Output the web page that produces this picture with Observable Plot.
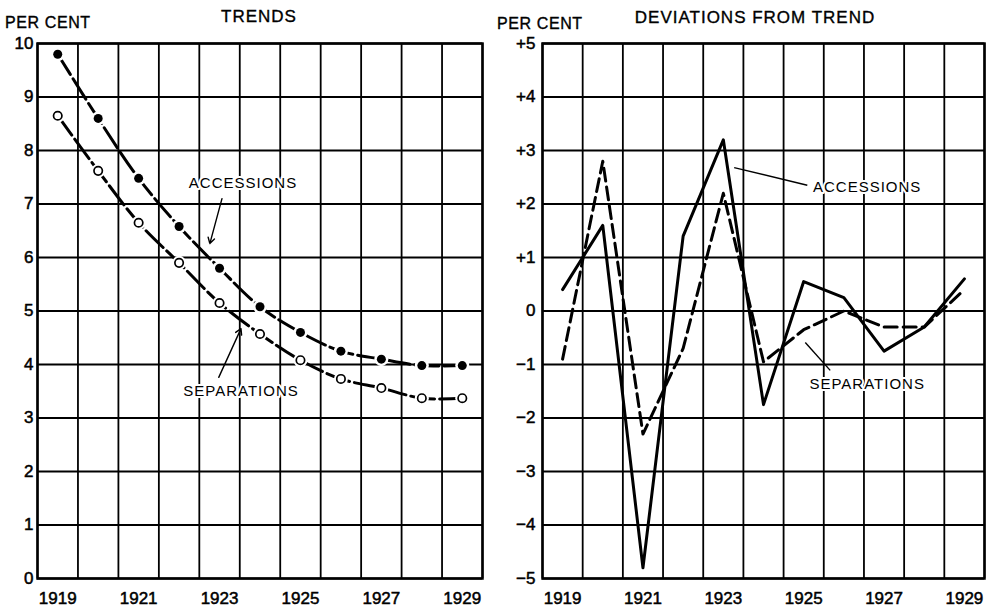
<!DOCTYPE html>
<html>
<head>
<meta charset="utf-8">
<script src="https://cdn.jsdelivr.net/npm/d3@7"></script>
<script src="https://cdn.jsdelivr.net/npm/@observablehq/plot@0.6"></script>
<style>
  html, body { margin: 0; padding: 0; background: #fff; }
  #wrap { position: relative; width: 1001px; height: 613px; overflow: hidden; font-family: "Liberation Sans", Arial, sans-serif; color: #000; }
  .panel { position: absolute; top: 0; }
  .head { position: relative; height: 30px; }
  .head span { position: absolute; white-space: nowrap; line-height: 1; -webkit-text-stroke: 0.35px #000; }
  .unit { font-size: 16px; letter-spacing: 0.6px; }
  .title { font-size: 17px; letter-spacing: 1px; transform: translateX(-50%); }
  svg g[aria-label="text"] text { letter-spacing: 1px; }
  svg g[aria-label$="tick label"] text { stroke: #000; stroke-width: 0.5px; }
</style>
</head>
<body>
<div id="wrap">
  <div class="panel" id="left" style="left:0;width:490px">
    <div class="head">
      <span class="unit" style="left:5px;top:15px">PER CENT</span>
      <span class="title" style="left:259px;top:8px">TRENDS</span>
    </div>
  </div>
  <div class="panel" id="right" style="left:490px;width:511px">
    <div class="head">
      <span class="unit" style="left:7px;top:16px">PER CENT</span>
      <span class="title" style="left:265px;top:9px">DEVIATIONS FROM TREND</span>
    </div>
  </div>
</div>
<script>
// ---- data ----
const years = [1919, 1920, 1921, 1922, 1923, 1924, 1925, 1926, 1927, 1928, 1929];
const trendAccessions  = [9.8, 8.6, 7.48, 6.58, 5.8, 5.08, 4.6, 4.25, 4.1, 3.98, 3.98];
const trendSeparations = [8.65, 7.62, 6.65, 5.9, 5.15, 4.57, 4.08, 3.73, 3.56, 3.37, 3.37];
const devAccessions  = [0.4, 1.6, -4.8, 1.4, 3.2, -1.75, 0.55, 0.25, -0.75, -0.3, 0.6];
const devSeparations = [-0.9, 2.8, -2.3, -0.7, 2.2, -0.95, -0.35, 0.0, -0.3, -0.3, 0.4];
const xTickYears = [1919, 1921, 1923, 1925, 1927, 1929];
const trendTicks = [0, 1, 2, 3, 4, 5, 6, 7, 8, 9, 10];
const devTicks = [-5, -4, -3, -2, -1, 0, 1, 2, 3, 4, 5];
const yearBounds = [1918.5, 1919.5, 1920.5, 1921.5, 1922.5, 1923.5, 1924.5, 1925.5, 1926.5, 1927.5, 1928.5, 1929.5];
const seriesNames = ["ACCESSIONS", "SEPARATIONS"];

// annotations (data space)
const trendLabels = [
  {text: seriesNames[0], x: 1923.58, y: 7.38},
  {text: seriesNames[1], x: 1923.53, y: 3.51}
];
const trendArrows = [
  {x1: 1923.06, y1: 7.1, x2: 1922.76, y2: 6.26},
  {x1: 1922.98, y1: 3.76, x2: 1923.53, y2: 4.67}
];
const devLabels = [
  {text: seriesNames[0], x: 1926.58, y: 2.31},
  {text: seriesNames[1], x: 1926.58, y: -1.36}
];
const devLeaders = [
  {x1: 1923.27, y1: 2.68, x2: 1925.09, y2: 2.35},
  {x1: 1925.04, y1: -0.59, x2: 1925.66, y2: -1.11}
];

const tA = years.map((yr, i) => ({year: yr, value: trendAccessions[i]}));
const tS = years.map((yr, i) => ({year: yr, value: trendSeparations[i]}));
const dA = years.map((yr, i) => ({year: yr, value: devAccessions[i]}));
const dS = years.map((yr, i) => ({year: yr, value: devSeparations[i]}));

const font = '"Liberation Sans", Arial, sans-serif';
const gridW = 1.8;

const left = Plot.plot({
  width: 490, height: 583,
  marginTop: 13, marginBottom: 35, marginLeft: 37, marginRight: 8,
  style: {fontFamily: font, fontSize: "17px", color: "#000", background: "#fff", overflow: "visible"},
  x: {domain: [1918.5, 1929.5]},
  y: {domain: [0, 10]},
  marks: [
    Plot.ruleX(yearBounds, {stroke: "#000", strokeWidth: gridW}),
    Plot.ruleY(trendTicks, {stroke: "#000", strokeWidth: gridW}),
    Plot.frame({stroke: "#000", strokeWidth: 2.5}),
    Plot.axisX({ticks: xTickYears, tickFormat: d => String(d), tickSize: 0, tickPadding: 13, label: null, fontSize: 17}),
    Plot.axisY({ticks: trendTicks, tickFormat: d => String(d), tickSize: 0, tickPadding: 4, label: null, fontSize: 17}),
    Plot.line(tA, {x: "year", y: "value", curve: "catmull-rom", stroke: "#000", strokeWidth: 3, strokeDasharray: "24,5"}),
    Plot.line(tS, {x: "year", y: "value", curve: "catmull-rom", stroke: "#000", strokeWidth: 3, strokeDasharray: "24,5"}),
    Plot.dot(tA, {x: "year", y: "value", r: 7, fill: "#fff"}),
    Plot.dot(tS, {x: "year", y: "value", r: 7, fill: "#fff"}),
    Plot.dot(tA, {x: "year", y: "value", r: 4.5, fill: "#000"}),
    Plot.dot(tS, {x: "year", y: "value", r: 4.2, fill: "#fff", stroke: "#000", strokeWidth: 1.7}),
    Plot.arrow(trendArrows, {x1: "x1", y1: "y1", x2: "x2", y2: "y2", stroke: "#000", strokeWidth: 1.4, headLength: 7}),
    Plot.text(trendLabels, {x: "x", y: "y", text: "text", fontSize: 15, fill: "#000", stroke: "#fff", strokeWidth: 4, paintOrder: "stroke"})
  ]
});

const right = Plot.plot({
  width: 511, height: 583,
  marginTop: 13, marginBottom: 35, marginLeft: 52, marginRight: 17,
  style: {fontFamily: font, fontSize: "17px", color: "#000", background: "#fff", overflow: "visible"},
  x: {domain: [1918.5, 1929.5]},
  y: {domain: [-5, 5]},
  marks: [
    Plot.ruleX(yearBounds, {stroke: "#000", strokeWidth: gridW}),
    Plot.ruleY(devTicks, {stroke: "#000", strokeWidth: gridW}),
    Plot.frame({stroke: "#000", strokeWidth: 2.5}),
    Plot.axisX({ticks: xTickYears, tickFormat: d => String(d), tickSize: 0, tickPadding: 13, label: null, fontSize: 17}),
    Plot.axisY({ticks: devTicks, tickFormat: d => d > 0 ? "+" + d : d < 0 ? "\u2212" + Math.abs(d) : "0", tickSize: 0, tickPadding: 7, label: null, fontSize: 17}),
    Plot.line(dS, {x: "year", y: "value", stroke: "#000", strokeWidth: 3, strokeDasharray: "13,6"}),
    Plot.line(dA, {x: "year", y: "value", stroke: "#000", strokeWidth: 3}),
    Plot.link(devLeaders, {x1: "x1", y1: "y1", x2: "x2", y2: "y2", stroke: "#000", strokeWidth: 1.4}),
    Plot.text(devLabels, {x: "x", y: "y", text: "text", fontSize: 15, fill: "#000", stroke: "#fff", strokeWidth: 4, paintOrder: "stroke"})
  ]
});

document.getElementById("left").appendChild(left);
document.getElementById("right").appendChild(right);
</script>
</body>
</html>
